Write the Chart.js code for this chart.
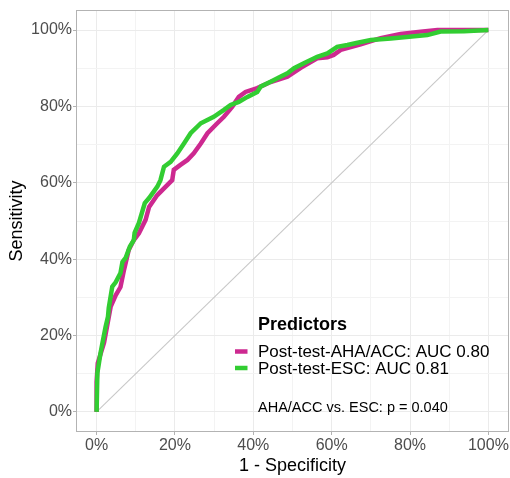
<!DOCTYPE html>
<html>
<head>
<meta charset="utf-8">
<script src="https://cdn.jsdelivr.net/npm/chart.js@4/dist/chart.umd.min.js"></script>
<style>
  html, body { margin: 0; padding: 0; background: #ffffff; }
  #wrap { width: 510px; height: 478px; }
</style>
</head>
<body>
<div id="wrap"><canvas id="c" width="510" height="478"></canvas></div>
<script>
// ---- Data (percent) ----
const fprAHA = [0, 0, 0.3, 1.9, 3.6, 4.9, 6.1, 7.0, 8.2, 9.5, 10.8, 12.5, 13.4, 15.5, 19.3, 19.7, 21.4, 23.2, 24.8, 26.6, 28.3, 30.8, 32.5, 34.6, 36.3, 38.0, 41.0, 44.4, 48.7, 52.1, 56.3, 58.9, 60.5, 62.3, 67.4, 72.5, 77.6, 82.7, 87.0, 100];
const tprAHA = [0, 7.9, 12.8, 18.1, 27.6, 30.6, 32.7, 37.2, 42.4, 45.0, 46.8, 50.3, 53.7, 56.8, 60.7, 63.4, 64.7, 66.0, 67.7, 70.3, 73.0, 75.6, 77.3, 79.9, 82.5, 83.8, 84.8, 86.4, 87.8, 90.1, 92.6, 92.9, 93.5, 94.8, 96.3, 97.9, 99.0, 99.6, 100, 100];

const fprESC = [0, 0.2, 0.6, 1.0, 1.5, 2.3, 2.9, 3.1, 4.0, 4.9, 6.1, 6.6, 7.4, 8.5, 9.5, 9.7, 10.8, 12.3, 13.4, 15.5, 16.3, 17.2, 18.9, 20.6, 22.3, 24.0, 26.6, 29.9, 32.5, 34.2, 36.3, 38.5, 41.0, 41.9, 44.4, 46.9, 48.7, 50.4, 52.9, 56.3, 58.9, 61.4, 64.0, 66.6, 70.0, 75.1, 84.4, 87.8, 93.8, 100];
const tprESC = [0, 10.2, 12.8, 15.4, 18.1, 22.3, 24.9, 27.2, 32.8, 34.0, 36.4, 39.3, 40.3, 43.3, 45.0, 46.9, 49.5, 54.7, 56.0, 59.0, 60.7, 64.2, 65.5, 67.7, 70.3, 73.0, 75.6, 77.3, 79.1, 80.4, 81.2, 82.5, 83.8, 85.2, 86.5, 87.8, 88.7, 90.0, 91.3, 93.0, 93.9, 95.6, 96.1, 96.7, 97.4, 97.8, 98.7, 99.6, 99.7, 100];

const seriesLabels = ["Post-test-AHA/ACC: AUC 0.80", "Post-test-ESC: AUC 0.81"];
const seriesColors = ["#CD2990", "#32CD32"];
const legendTitle = "Predictors";
const annotationText = "AHA/ACC vs. ESC: p = 0.040";
const tickValues = [0, 20, 40, 60, 80, 100];
const minorValues = [10, 30, 50, 70, 90];
const xTitle = "1 - Specificity";
const yTitle = "Sensitivity";

const toXY = (xs, ys) => xs.map((x, i) => ({ x: x, y: ys[i] }));

const allTicks = tickValues.concat(minorValues).sort((a, b) => a - b);
const isMajor = v => tickValues.indexOf(v) !== -1;

const FONT = "'Liberation Sans', Arial, sans-serif";

const panelPlugin = {
  id: 'panel',
  afterDatasetsDraw(chart) {
    const ctx = chart.ctx;
    const a = chart.chartArea;
    ctx.save();
    // panel border
    ctx.strokeStyle = '#B3B3B3';
    ctx.lineWidth = 1;
    ctx.strokeRect(Math.round(a.left) - 0.5, Math.round(a.top) - 0.5, Math.round(a.right - a.left) + 1, Math.round(a.bottom - a.top) + 1);
    // legend
    const tx = 258;
    ctx.fillStyle = '#000000';
    ctx.textBaseline = 'middle';
    ctx.textAlign = 'left';
    ctx.font = "bold 18px " + FONT;
    ctx.fillText(legendTitle, tx, 325);
    ctx.font = "17px " + FONT;
    const ys = [351.5, 368];
    for (let i = 0; i < seriesLabels.length; i++) {
      ctx.strokeStyle = seriesColors[i];
      ctx.lineWidth = 4.5;
      ctx.beginPath();
      ctx.moveTo(235, ys[i]);
      ctx.lineTo(247.5, ys[i]);
      ctx.stroke();
      ctx.fillStyle = '#000000';
      ctx.fillText(seriesLabels[i], tx, ys[i] + 1);
    }
    ctx.font = "14.5px " + FONT;
    ctx.fillText(annotationText, tx, 408);
    ctx.restore();
  }
};

const gridColor = ctx => {
  const v = ctx.tick ? ctx.tick.value : null;
  return isMajor(v) ? '#EBEBEB' : '#F3F3F3';
};
const tickColor = ctx => {
  const v = ctx.tick ? ctx.tick.value : null;
  return isMajor(v) ? '#B3B3B3' : 'rgba(0,0,0,0)';
};

new Chart(document.getElementById('c'), {
  type: 'scatter',
  data: {
    datasets: [
      {
        label: 'ref',
        data: [{ x: 0, y: 0 }, { x: 100, y: 100 }],
        showLine: true,
        borderColor: '#C8C8C8',
        borderWidth: 1.1,
        pointRadius: 0,
        order: 3
      },
      {
        label: seriesLabels[0],
        data: toXY(fprAHA, tprAHA),
        showLine: true,
        borderColor: seriesColors[0],
        borderWidth: 4.5,
        pointRadius: 0,
        order: 2
      },
      {
        label: seriesLabels[1],
        data: toXY(fprESC, tprESC),
        showLine: true,
        borderColor: seriesColors[1],
        borderWidth: 4.5,
        pointRadius: 0,
        order: 1
      }
    ]
  },
  options: {
    responsive: false,
    animation: false,
    devicePixelRatio: 1,
    layout: { padding: { top: 11, right: 2, left: 0, bottom: 0 } },
    plugins: { legend: { display: false }, tooltip: { enabled: false } },
    scales: {
      x: {
        type: 'linear',
        min: -5, max: 105,
        afterBuildTicks: s => { s.ticks = allTicks.map(v => ({ value: v })); },
        afterFit: s => { s.height = 47; },
        ticks: {
          autoSkip: false,
          maxRotation: 0,
          padding: 1,
          color: '#4D4D4D',
          font: { family: FONT, size: 16 },
          callback: v => isMajor(v) ? v + '%' : ''
        },
        grid: { color: gridColor, tickColor: tickColor, tickLength: 4, lineWidth: 1 },
        border: { display: false },
        title: { display: true, text: xTitle, color: '#000000', font: { family: FONT, size: 18 }, padding: { top: 0, bottom: 1 } }
      },
      y: {
        type: 'linear',
        min: -5, max: 105,
        afterBuildTicks: s => { s.ticks = allTicks.map(v => ({ value: v })); },
        afterFit: s => { s.width = 77; },
        ticks: {
          autoSkip: false,
          padding: 1,
          color: '#4D4D4D',
          font: { family: FONT, size: 16 },
          callback: v => isMajor(v) ? v + '%' : ''
        },
        grid: { color: gridColor, tickColor: tickColor, tickLength: 4, lineWidth: 1 },
        border: { display: false },
        title: { display: true, text: yTitle, color: '#000000', font: { family: FONT, size: 18 }, padding: { top: 6, bottom: 0 } }
      }
    }
  },
  plugins: [panelPlugin]
});
</script>
</body>
</html>
